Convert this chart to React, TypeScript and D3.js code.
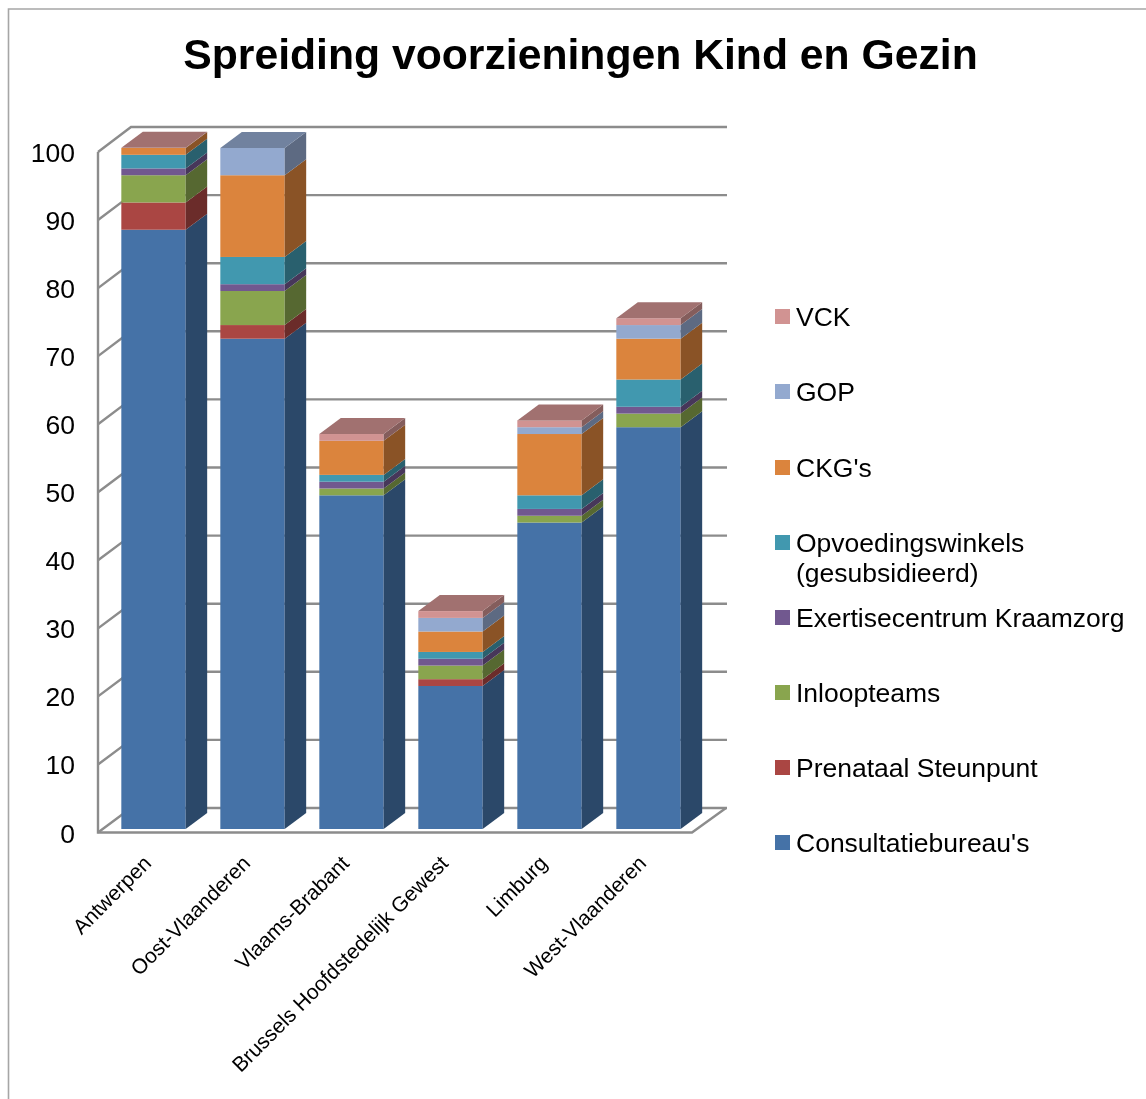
import React from "react";
import * as d3 from "d3";

const title = "Spreiding voorzieningen Kind en Gezin";
const categories = ["Antwerpen", "Oost-Vlaanderen", "Vlaams-Brabant", "Brussels Hoofdstedelijk Gewest", "Limburg", "West-Vlaanderen"];
const consultatie = [88, 72, 49, 21, 45, 59];
const prenataal = [4, 2, 0, 1, 0, 0];
const inloop = [4, 5, 1, 2, 1, 2];
const expertise = [1, 1, 1, 1, 1, 1];
const opvoeding = [2, 4, 1, 1, 2, 4];
const ckg = [1, 12, 5, 3, 9, 6];
const gop = [0, 4, 0, 2, 1, 2];
const vck = [0.02, 0, 1, 1, 1, 1];
const yTicks = [0, 10, 20, 30, 40, 50, 60, 70, 80, 90, 100];

const series = [
  { name: ["Consultatiebureau's"], values: consultatie, color: "#4572A7", ly: 843 },
  { name: ["Prenataal Steunpunt"], values: prenataal, color: "#AA4643", ly: 768 },
  { name: ["Inloopteams"], values: inloop, color: "#89A54E", ly: 693 },
  { name: ["Exertisecentrum Kraamzorg"], values: expertise, color: "#71588F", ly: 618 },
  { name: ["Opvoedingswinkels", "(gesubsidieerd)"], values: opvoeding, color: "#4198AF", ly: 543 },
  { name: ["CKG's"], values: ckg, color: "#DB843D", ly: 468 },
  { name: ["GOP"], values: gop, color: "#93A9CF", ly: 392 },
  { name: ["VCK"], values: vck, color: "#D19392", ly: 317 },
];

const FONT = "'Liberation Sans', Arial, sans-serif";
const GRID = "#8C8C8C";
const dark = (c: string, k: number) => { const r = d3.rgb(c); return d3.rgb(r.r * k, r.g * k, r.b * k).formatHex(); };

// Axis geometry of the pseudo-3D frame
const yFront = d3.scaleLinear().domain([0, 100]).range([832.5, 152]);
const yBack = d3.scaleLinear().domain([0, 100]).range([808, 127]);
const yBar = d3.scaleLinear().domain([0, 100]).range([829, 148]);
const x = d3.scaleBand().domain(categories).range([104, 698]).paddingInner(0.35).paddingOuter(0.175);
const DX = 21.5, DY = 16;
const stack = d3.stack<number>().keys(series.map((_, i) => String(i))).value((d, k) => series[+k].values[d]);
const layers = stack(categories.map((_, i) => i));

export default function App() {
  return (
    <svg width={1146} height={1099} style={{ position: "absolute", left: 0, top: 0, background: "#fff", filter: "blur(0.4px)" }}>
      <path d="M1146,9 H8.5 V1099" fill="none" stroke="#A6A6A6" strokeWidth={1.6} />
      <text x={580.5} y={69} textAnchor="middle" fontFamily={FONT} fontWeight="bold" fontSize={42.7} fill="#000">{title}</text>
      <g fill="none" stroke={GRID} strokeWidth={2.4}>
        {yTicks.map(t => (
          <path key={t} d={`M${98},${yFront(t)} L131,${yBack(t)} H727`} />
        ))}
        <path d={`M98,${yFront(100)} V${yFront(0)} H692 L726,${yBack(0)}`} />
      </g>
      {yTicks.map(t => (
        <text key={t} x={75} y={yFront(t) + 10} textAnchor="end" fontFamily={FONT} fontSize={26.5} fill="#000">{t}</text>
      ))}
      {categories.map((c, i) => {
        const bx = x(c)!, w = x.bandwidth();
        const segs = layers.map((l, s) => ({ s, y0: l[i][0], y1: l[i][1] })).filter(d => d.y1 > d.y0);
        const top = segs[segs.length - 1];
        const tc = series[top.s].color;
        return (
          <g key={c}>
            {segs.map(d => {
              const col = series[d.s].color;
              const a = yBar(d.y1), b = yBar(d.y0);
              return (
                <g key={d.s}>
                  <rect x={bx} y={a} width={w} height={b - a} fill={col} />
                  <path d={`M${bx + w},${a} l${DX},${-DY} V${b - DY} L${bx + w},${b} Z`} fill={dark(col, 0.63)} />
                </g>
              );
            })}
            <path d={`M${bx},${yBar(top.y1)} l${DX},${-DY} h${w} l${-DX},${DY} Z`} fill={dark(tc, 0.77)} />
          </g>
        );
      })}
      {categories.map(c => {
        const px = x(c)! + x.bandwidth() / 2;
        return (
          <text key={c} transform={`translate(${px - 1},${864.5}) rotate(-45)`} textAnchor="end" fontFamily={FONT} fontSize={21} fill="#000">{c}</text>
        );
      })}
      {series.map(s => (
        <g key={s.name[0]}>
          <rect x={775} y={s.ly - 8} width={15} height={15} fill={s.color} />
          {s.name.map((n, j) => (
            <text key={n} x={796} y={s.ly + 9 + j * 30} fontFamily={FONT} fontSize={26.5} fill="#000">{n}</text>
          ))}
        </g>
      ))}
    </svg>
  );
}
